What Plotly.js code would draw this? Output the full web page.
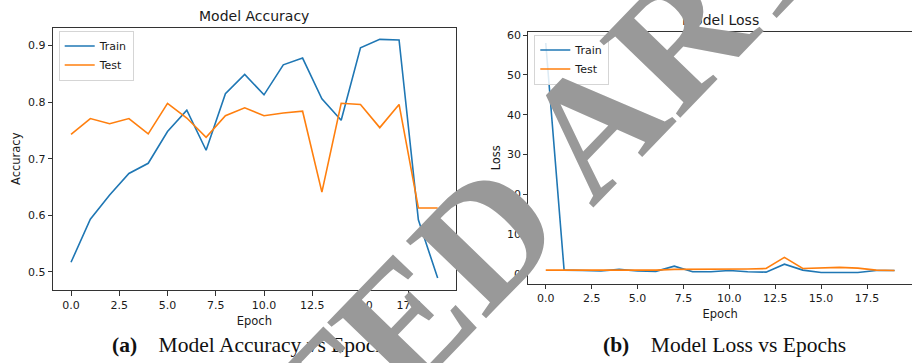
<!DOCTYPE html>
<html><head><meta charset="utf-8">
<script src="https://cdn.plot.ly/plotly-3.0.1.min.js"></script>
<style>html,body{margin:0;padding:0;background:#fff}#chart{width:912px;height:363px}</style>
</head><body><div id="chart"></div>
<script>
const epochs = [0,1,2,3,4,5,6,7,8,9,10,11,12,13,14,15,16,17,18,19];
const accTrain = [0.517,0.593,0.636,0.674,0.692,0.748,0.786,0.715,0.815,0.849,0.813,0.866,0.878,0.806,0.768,0.896,0.911,0.910,0.592,0.489];
const accTest  = [0.743,0.771,0.762,0.771,0.744,0.798,0.772,0.738,0.776,0.790,0.776,0.781,0.784,0.641,0.798,0.796,0.755,0.796,0.613,0.613];
const lossTrain = [58.0,1.0,0.9,0.8,1.2,0.8,0.7,2.0,0.6,0.6,0.9,0.6,0.5,2.5,1.0,0.4,0.4,0.4,0.9,0.9];
const lossTest  = [1.0,1.0,1.0,0.9,1.0,1.0,1.0,1.2,1.2,1.2,1.2,1.3,1.4,4.2,1.4,1.5,1.7,1.5,1.0,0.9];
const seriesNames = ['Train','Test'];
const seriesColors = ['#1f77b4','#ff7f0e'];
const xTickVals = [0,2.5,5,7.5,10,12.5,15,17.5];
const xTickText = ['0.0','2.5','5.0','7.5','10.0','12.5','15.0','17.5'];
const accTickVals = [0.5,0.6,0.7,0.8,0.9];
const accTickText = ['0.5','0.6','0.7','0.8','0.9'];
const lossTickVals = [0,10,20,30,40,50,60];
const lossTickText = ['0','10','20','30','40','50','60'];
const titles = ['Model Accuracy','Model Loss'];
const yTitles = ['Accuracy','Loss'];
const xTitle = 'Epoch';
const captions = ['<b>(a)</b>\u00a0\u00a0\u00a0 Model Accuracy vs Epochs','<b>(b)</b>\u00a0\u00a0\u00a0 Model Loss vs Epochs'];
const watermarkWords = ['RETRACTED','ARTICLE'];

const W = 912, H = 363;
const px = v => v / W;
const py = v => 1 - v / H;

const tickFont = {family: 'DejaVu Sans', size: 11, color: '#1a1a1a'};
const labelFont = {family: 'DejaVu Sans', size: 11.5, color: '#1a1a1a'};

function line(x, y, i, xa, ya, leg) {
  return {x: x, y: y, name: seriesNames[i], type: 'scatter', mode: 'lines',
    line: {color: seriesColors[i], width: 1.6}, xaxis: xa, yaxis: ya, legend: leg};
}

const data = [
  line(epochs, accTrain, 0, 'x', 'y', 'legend'),
  line(epochs, accTest, 1, 'x', 'y', 'legend'),
  line(epochs, lossTrain, 0, 'x2', 'y2', 'legend2'),
  line(epochs, lossTest, 1, 'x2', 'y2', 'legend2')
];

const axBase = {showgrid: false, zeroline: false, showline: true, linecolor: '#333', linewidth: 1,
  ticks: 'outside', ticklen: 4, tickwidth: 1, tickcolor: '#333', tickfont: tickFont, fixedrange: true};

const legBase = {bgcolor: 'rgba(255,255,255,0.85)', bordercolor: '#d5d5d5', borderwidth: 1,
  font: {family: 'DejaVu Sans', size: 11, color: '#1a1a1a'}, xanchor: 'left', yanchor: 'top',
  tracegroupgap: 0, itemwidth: 30};

const wmFont = {family: 'Liberation Serif', size: 170, color: '#999999'};

const layout = {
  width: W, height: H, margin: {l: 0, r: 0, t: 0, b: 0},
  paper_bgcolor: '#fff', plot_bgcolor: '#fff', showlegend: true,
  xaxis: Object.assign({}, axBase, {domain: [px(52.7), px(456)], range: [-0.95, 19.95], mirror: true,
    tickvals: xTickVals, ticktext: xTickText, anchor: 'y', ticklen: 5,
    title: {text: xTitle, font: labelFont, standoff: 5}}),
  yaxis: Object.assign({}, axBase, {domain: [py(290), py(27.5)], range: [0.468, 0.932], mirror: true,
    tickvals: accTickVals, ticktext: accTickText, anchor: 'x',
    title: {text: yTitles[0], font: labelFont, standoff: 4}}),
  xaxis2: Object.assign({}, axBase, {domain: [px(528.3), 1], range: [-0.95, 19.95], mirror: true,
    tickvals: xTickVals, ticktext: xTickText, anchor: 'y2',
    title: {text: xTitle, font: labelFont, standoff: 5}}),
  yaxis2: Object.assign({}, axBase, {domain: [py(284), py(31.5)], range: [-2.48, 60.88],
    tickvals: lossTickVals, ticktext: lossTickText, anchor: 'x2',
    title: {text: yTitles[1], font: labelFont, standoff: 4}}),
  legend: Object.assign({}, legBase, {x: px(58.7), y: py(30.5)}),
  legend2: Object.assign({}, legBase, {x: px(534.3), y: py(34.5)}),
  annotations: [
    {text: titles[0], xref: 'paper', yref: 'paper', x: px(254.3), y: py(16), xanchor: 'center', yanchor: 'middle',
     showarrow: false, font: {family: 'DejaVu Sans', size: 14, color: '#1a1a1a'}},
    {text: titles[1], xref: 'paper', yref: 'paper', x: px(720), y: py(20.5), xanchor: 'center', yanchor: 'middle',
     showarrow: false, font: {family: 'DejaVu Sans', size: 14, color: '#1a1a1a'}},
    {text: captions[0], xref: 'paper', yref: 'paper', x: px(110), y: py(345), xanchor: 'left', yanchor: 'middle',
     showarrow: false, font: {family: 'Liberation Serif', size: 21.5, color: '#111'}},
    {text: captions[1], xref: 'paper', yref: 'paper', x: px(601), y: py(345), xanchor: 'left', yanchor: 'middle',
     showarrow: false, font: {family: 'Liberation Serif', size: 21.5, color: '#111'}},
    {text: '<b>' + watermarkWords[0] + '</b>', xref: 'paper', yref: 'paper', x: px(157), y: py(577), xanchor: 'center', yanchor: 'middle',
     showarrow: false, textangle: -46, font: wmFont},
    {text: '<b>' + watermarkWords[1] + '</b>', xref: 'paper', yref: 'paper', x: px(818), y: py(-107), xanchor: 'center', yanchor: 'middle',
     showarrow: false, textangle: -46, font: wmFont}
  ]
};

Plotly.newPlot('chart', data, layout, {displayModeBar: false, staticPlot: true});
</script></body></html>
